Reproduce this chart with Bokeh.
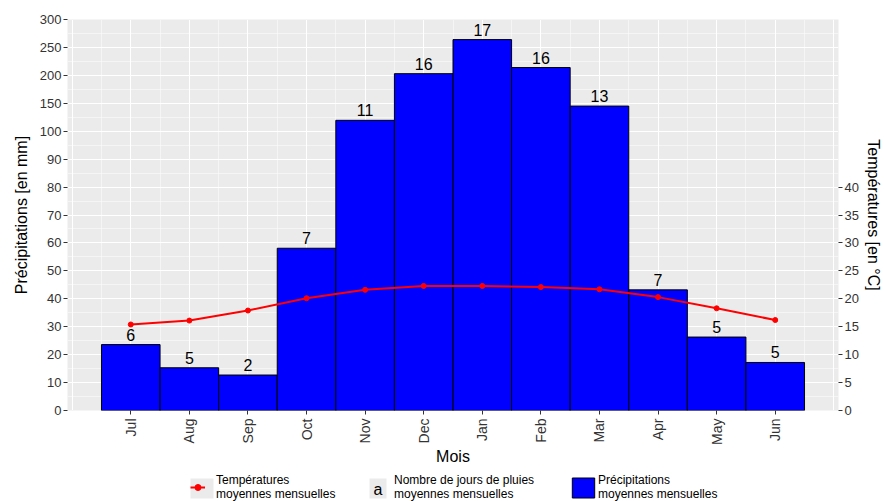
import math
from bokeh.plotting import figure
from bokeh.layouts import column
from bokeh.models import (Range1d, LinearAxis, FixedTicker, Legend, LegendItem,
                          ColumnDataSource, Grid, Label, BoxAnnotation)
from bokeh.core.properties import value
from bokeh.embed import file_html
from bokeh.resources import INLINE

# ---------------- data ----------------
months = ["Jul", "Aug", "Sep", "Oct", "Nov", "Dec",
          "Jan", "Feb", "Mar", "Apr", "May", "Jun"]
precip_mm = [23.6, 15.3, 12.7, 58.1, 119.5, 203, 264, 214, 145, 43.2, 26.3, 17.2]
temp_c = [15.4, 16.1, 17.9, 20.1, 21.6, 22.3, 22.3, 22.1, 21.7, 20.3, 18.3, 16.2]
rain_days = [6, 5, 2, 7, 11, 16, 17, 16, 13, 7, 5, 5]
precip_tick_values = [0, 10, 20, 30, 40, 50, 60, 70, 80, 90, 100, 150, 200, 250, 300]
temp_tick_values = [0, 5, 10, 15, 20, 25, 30, 35, 40]
legend_labels = ["Températures\nmoyennes mensuelles",
                 "Nombre de jours de pluies\nmoyennes mensuelles",
                 "Précipitations\nmoyennes mensuelles"]

FONT = "Liberation Sans"


def precip_to_unit(mm):
    # 10 mm per unit up to 100 mm, then 50 mm per unit (compressed scale)
    return mm / 10.0 if mm <= 100 else 10.0 + (mm - 100) / 50.0


xs = list(range(1, len(months) + 1))
src = ColumnDataSource(dict(
    x=xs,
    left=[i - 0.5 for i in xs],
    right=[i + 0.5 for i in xs],
    top=[precip_to_unit(v) for v in precip_mm],
    temp=temp_c,
    days=[str(d) for d in rain_days],
))

MAIN_H = 467
LEG_H = 501 - MAIN_H
BL, BR = 67, 46

p = figure(width=884, height=MAIN_H,
           x_range=Range1d(-0.08, 13.08), y_range=Range1d(0, 14),
           output_backend="svg", toolbar_location=None,
           x_axis_location=None, y_axis_location=None,
           min_border_left=BL, min_border_right=BR,
           min_border_top=19, min_border_bottom=MAIN_H - 415,
           background_fill_color="#EBEBEB", border_fill_color="white",
           outline_line_color=None)
p.extra_y_ranges = {"temp": Range1d(0, 70)}

# grids
xgrid = Grid(dimension=0,
             ticker=FixedTicker(ticks=list(range(0, 14)),
                                minor_ticks=[i + 0.5 for i in range(0, 13)]),
             grid_line_color="white", grid_line_width=1.1,
             minor_grid_line_color="white", minor_grid_line_width=0.5)
ygrid = Grid(dimension=1,
             ticker=FixedTicker(ticks=list(range(0, 15)),
                                minor_ticks=[i + 0.5 for i in range(0, 14)]),
             grid_line_color="white", grid_line_width=1.1,
             minor_grid_line_color="white", minor_grid_line_width=0.5)
p.add_layout(xgrid)
p.add_layout(ygrid)

BAR_STYLE = dict(fill_color="#0000FF", line_color="black", line_width=1)
LINE_STYLE = dict(line_color="#FF0000", line_width=2)
PT_STYLE = dict(size=5, fill_color="#FF0000", line_color="#FF0000")

# glyphs
bars = p.quad(left="left", right="right", bottom=0, top="top", source=src, **BAR_STYLE)
tline = p.line("x", "temp", source=src, y_range_name="temp", **LINE_STYLE)
tpts = p.scatter("x", "temp", source=src, y_range_name="temp", **PT_STYLE)
txt = p.text("x", "top", text="days", source=src, y_offset=-4,
             text_align="center", text_baseline="bottom", text_font=value(FONT),
             text_font_size="16px", text_color="black")


def style_axis(ax):
    ax.axis_line_color = None
    ax.major_tick_line_color = "#333333"
    ax.major_tick_out = 4
    ax.major_tick_in = 0
    ax.minor_tick_line_color = None
    ax.major_label_text_font = FONT
    ax.major_label_text_font_size = "13px"
    ax.major_label_text_color = "#333333"
    ax.major_label_standoff = 2
    ax.axis_label_text_font = FONT
    ax.axis_label_text_font_size = "16px"
    ax.axis_label_text_font_style = "normal"
    ax.axis_label_text_color = "black"
    ax.axis_label_standoff = 3


xaxis = LinearAxis(ticker=FixedTicker(ticks=xs),
                   major_label_overrides={i: m for i, m in zip(xs, months)},
                   axis_label="Mois")
style_axis(xaxis)
xaxis.major_label_orientation = math.pi / 2
xaxis.major_label_text_font_size = "14px"
xaxis.major_label_standoff = 4
xaxis.axis_label_standoff = 0
p.add_layout(xaxis, "below")

lticks = [precip_to_unit(v) for v in precip_tick_values]
yaxis = LinearAxis(ticker=FixedTicker(ticks=lticks),
                   major_label_overrides={t: str(v) for t, v in zip(lticks, precip_tick_values)},
                   axis_label="Précipitations [en mm]")
style_axis(yaxis)
yaxis.axis_label_standoff = 7
p.add_layout(yaxis, "left")

raxis = LinearAxis(y_range_name="temp", ticker=FixedTicker(ticks=temp_tick_values),
                   axis_label="Températures [en °C]")
style_axis(raxis)
p.add_layout(raxis, "right")

# ---------------- legend strip ----------------
lf = figure(width=884, height=LEG_H, x_range=Range1d(-100, -99), y_range=Range1d(-100, -99),
            output_backend="svg", toolbar_location=None,
            x_axis_location=None, y_axis_location=None,
            min_border_left=BL, min_border_right=BR, min_border_top=0, min_border_bottom=0,
            background_fill_color="white", border_fill_color="white",
            outline_line_color=None)
for r in list(lf.center):
    if isinstance(r, Grid):
        r.visible = False

# renderers sharing the data, used only for the legend keys (outside the strip's ranges)
l_bars = lf.quad(left="left", right="right", bottom=0, top="top", source=src, **BAR_STYLE)
l_line = lf.line("x", "temp", source=src, **LINE_STYLE)
l_pts = lf.scatter("x", "temp", source=src, **PT_STYLE)
l_blank = lf.scatter("x", "temp", source=src, size=1, fill_alpha=0, line_alpha=0)

# grey key backgrounds (page x positions converted to frame-relative)
for kl, kr in [(190, 213), (369, 386)]:
    lf.add_layout(BoxAnnotation(left=kl - BL, right=kr - BL, bottom=3, top=23,
                                left_units="screen", right_units="screen",
                                top_units="screen", bottom_units="screen",
                                fill_color="#EBEBEB", fill_alpha=1, line_color=None,
                                level="underlay"))

legend_specs = [
    (legend_labels[0], [l_line, l_pts], 190, 15, 20, 11),
    (legend_labels[1], [l_blank], 369, 17, 20, 8),
    (legend_labels[2], [l_bars], 569, 28, 25, 1),
]
for lab, rends, lx, gw, gh, so in legend_specs:
    lg = Legend(items=[LegendItem(label=lab, renderers=rends)],
                location=(lx - BL, 0),
                label_text_font=FONT, label_text_font_size="12px",
                label_text_line_height=0.88, label_text_color="black",
                glyph_width=gw, glyph_height=gh, label_standoff=so,
                padding=0, margin=0, border_line_color=None,
                background_fill_alpha=0)
    lf.add_layout(lg)

# the "a" key of the rain-days entry
lf.add_layout(Label(x=377.5 - BL, y=12, x_units="screen", y_units="screen", text="a",
                    text_font=FONT, text_font_size="16px", text_align="center",
                    text_baseline="middle", text_color="black"))

layout = column(p, lf, spacing=0)
open("out.html", "w").write(file_html(layout, INLINE))
